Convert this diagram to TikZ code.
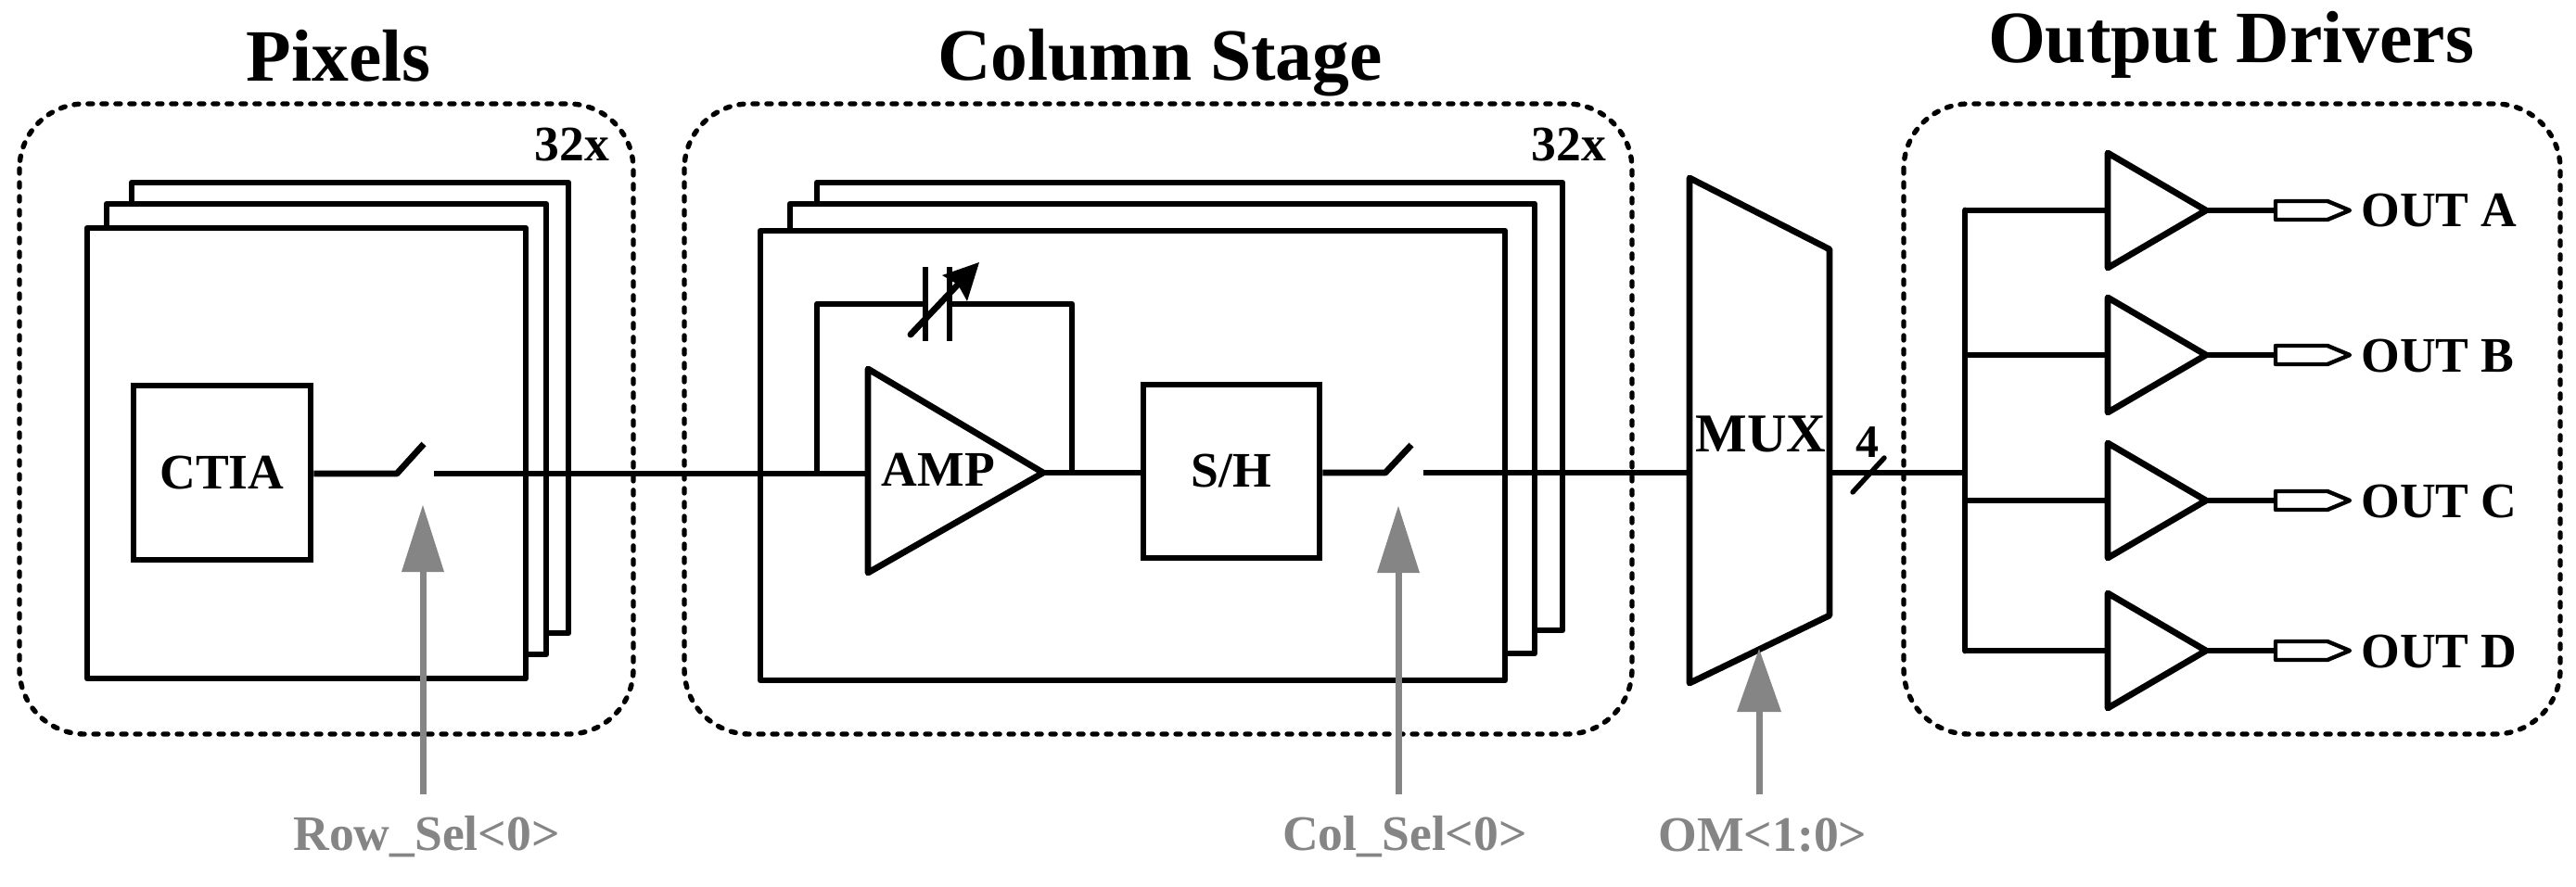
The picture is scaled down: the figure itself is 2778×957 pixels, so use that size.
\documentclass[tikz,border=0pt]{standalone}
\usepackage{fontspec}
\setmainfont{Liberation Serif}
\tikzset{
  wire/.style={line width=3.4pt,line join=round,line cap=butt},
  stack/.style={line width=3.4pt,line join=round,fill=white},
  group/.style={line width=2.7pt,line cap=round,dash pattern=on 2.5pt off 5pt,rounded corners=35pt},
  blockbox/.style={draw,line width=3.4pt,fill=white,inner sep=0pt,font=\bfseries\fontsize{26.8}{28}\selectfont},
  amptri/.style={line width=3.4pt,line join=round,fill=white},
  pin/.style={line width=2.2pt,line join=round,fill=white},
  ctrl/.style={line width=3.5pt,draw=grayc},
  ctrltip/.style={fill=grayc,draw=none},
  lab/.style={inner sep=0pt,font=\bfseries\fontsize{26.8}{28}\selectfont},
  graylab/.style={lab,text=grayc},
  title/.style={inner sep=0pt,font=\bfseries\fontsize{39.8}{42}\selectfont}
}
\definecolor{grayc}{HTML}{858585}
\begin{document}
\begin{tikzpicture}[x=0.5pt,y=-0.5pt]
\useasboundingbox (0,0) rectangle (2778,957);
% group outlines
\draw[group] (21,112) rectangle (683,792);
\draw[group] (738,112) rectangle (1760,792);
\draw[group] (2053,112) rectangle (2761,792);
% titles
\node[title] (tpix) at (365,60) {Pixels};
\node[title] (tcol) at (1251,68) {Column Stage};
\node[title] (tout) at (2406,48) {Output Drivers};
% pixel stack
\draw[stack] (142,197) rectangle (613,683);
\draw[stack] (115,220) rectangle (589,706);
\draw[stack] (94,246) rectangle (567,732);
% column stack
\draw[stack] (881,197) rectangle (1685,680);
\draw[stack] (852,220) rectangle (1655,705);
\draw[stack] (820,249) rectangle (1623,734);
\node[lab] (n32a) at (617,156) {32x};
\node[lab] (n32b) at (1692,156) {32x};
% blocks
\node[blockbox,minimum width=95.5pt,minimum height=94pt] (ctia) at (239.5,510) {CTIA};
\node[blockbox,minimum width=95pt,minimum height=93.5pt] (sh) at (1328,508.5) {S/H};
% amp
\coordinate (ampTop) at (936,398);
\coordinate (ampBot) at (936,618);
\coordinate (ampOut) at (1125,510);
\coordinate (ampIn) at (936,511);
\draw[amptri] (ampTop) -- (ampOut) -- (ampBot) -- cycle;
\node[lab] (amp) at (1012,507) {AMP};
% row switch and wire
\coordinate (sw1a) at (428,511);
\coordinate (sw1b) at (457,479);
\coordinate (sw1c) at (468,511);
\draw[wire] (ctia.east |- sw1a) -- (sw1a) -- (sw1b);
\draw[wire] (sw1c) -- (ampIn);
% feedback with capacitor
\coordinate (fbL) at (881,511);
\coordinate (fbTL) at (881,328);
\coordinate (fbTR) at (1156,328);
\coordinate (fbR) at (1156,510);
\coordinate (capA) at (998,328);
\coordinate (capB) at (1024,328);
\draw[wire] (fbL) -- (fbTL) -- (capA);
\draw[wire] (capB) -- (fbTR) -- (fbR);
\draw[wire] (998,288) -- (998,368);
\draw[wire] (1024,288) -- (1024,368);
\coordinate (capS) at (982,361);
\coordinate (capE) at (1032,308);
\draw[wire,line cap=round] (capS) -- (capE);
\fill (1056,283) -- (1016,297) -- (1033,307) -- (1043,325) -- cycle;
% amp to S/H
\draw[wire] (ampOut) -- (sh.west |- ampOut);
% column switch
\coordinate (sw2a) at (1494,510);
\coordinate (sw2b) at (1522,480);
\coordinate (sw2c) at (1535,510);
\coordinate (muxIn) at (1822,510);
\draw[wire] (sh.east |- sw2a) -- (sw2a) -- (sw2b);
\draw[wire] (sw2c) -- (muxIn);
% mux
\coordinate (m1) at (1822,192);
\coordinate (m2) at (1973,269);
\coordinate (m3) at (1973,664);
\coordinate (m4) at (1822,737);
\draw[amptri] (m1) -- (m2) -- (m3) -- (m4) -- cycle;
\node[lab,font=\bfseries\fontsize{29.5}{30}\selectfont] (mux) at (1899,468) {MUX};
% bus
\coordinate (busIn) at (1973,510);
\coordinate (busM) at (2119,510);
\coordinate (busT) at (2119,227);
\coordinate (busB) at (2119,702);
\draw[wire] (busIn) -- (busM);
\draw[wire,line cap=round] (busT) -- (busB);
\draw[wire,line width=2.7pt,line cap=round] (1998,531) -- (2032,494);
\node[lab,font=\bfseries\fontsize{25}{26}\selectfont] (four) at (2014,477) {4};
% output drivers
\foreach \nm/\yc/\lbl/\lx in {A/227/OUT A/2680,B/383/OUT B/2681,C/540/OUT C/2680,D/702/OUT D/2680}{
  \coordinate (tri\nm t) at (2273,\yc-62);
  \coordinate (tri\nm b) at (2273,\yc+62);
  \coordinate (tri\nm o) at (2379,\yc);
  \coordinate (tri\nm i) at (2273,\yc);
  \coordinate (bus\nm) at (2119,\yc);
  \coordinate (pin\nm) at (2454,\yc);
  \draw[wire] (bus\nm) -- (tri\nm i);
  \draw[amptri] (tri\nm t) -- (tri\nm o) -- (tri\nm b) -- cycle;
  \draw[wire] (tri\nm o) -- (pin\nm);
  \draw[pin] (pin\nm) ++(0,-10) -- ++(56,0) -- ++(24,10) -- ++(-24,10) -- ++(-56,0) -- cycle;
  \node[lab,anchor=base west] (out\nm) at (2546,\yc+18) {\lbl};
}
% control arrows
\coordinate (rowB) at (456,857);
\coordinate (rowT) at (456,617);
\coordinate (colB) at (1508,857);
\coordinate (colT) at (1508,617);
\coordinate (omB) at (1897,857);
\coordinate (omT) at (1897,767);
\draw[ctrl] (rowB) -- (rowT);
\fill[ctrltip] (456,545) -- (479,617) -- (433,617) -- cycle;
\draw[ctrl] (colB) -- (colT);
\fill[ctrltip] (1508,546) -- (1531,618) -- (1485,618) -- cycle;
\draw[ctrl] (omB) -- (omT);
\fill[ctrltip] (1897,700) -- (1921,768) -- (1873,768) -- cycle;
\node[graylab] (row) at (460,903) {Row\_Sel<0>};
\node[graylab] (col) at (1515,903) {Col\_Sel<0>};
\node[graylab] (om) at (1901,901) {OM<1:0>};
\end{tikzpicture}
\end{document}
